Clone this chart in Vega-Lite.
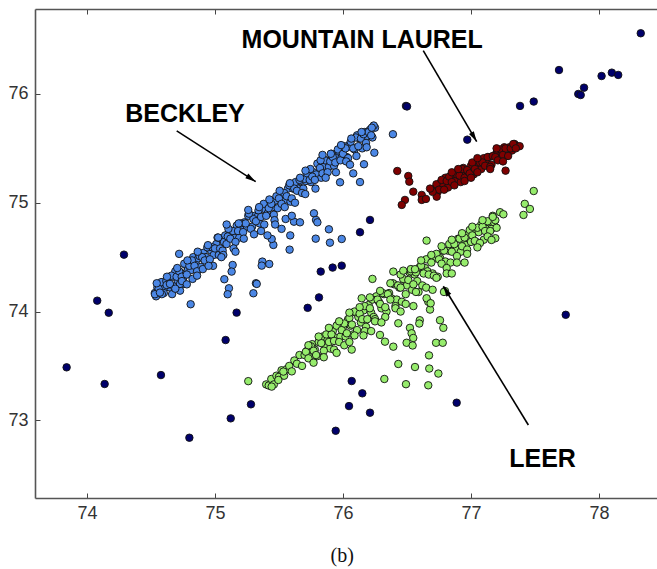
{
"$schema": "https://vega.github.io/schema/vega-lite/v6.json",
"width": 622, "height": 489,
"autosize": {"type": "none"},
"padding": {"left": 35, "top": 9, "right": 0, "bottom": 71},
"background": "white",
"config": {"view": {"stroke": null}},
"resolve": {"axis": {"x": "independent", "y": "independent"}},
"datasets": {
"pts": [
{"x":73.841,"y":73.487,"c":"N"},{"x":74.08,"y":74.10,"c":"N"},{"x":74.17,"y":73.989,"c":"N"},{"x":74.138,"y":73.334,"c":"N"},{"x":74.578,"y":73.416,"c":"N"},{"x":74.289,"y":74.523,"c":"N"},{"x":74.80,"y":72.84,"c":"N"},{"x":75.083,"y":73.738,"c":"N"},{"x":75.169,"y":73.99,"c":"N"},{"x":75.123,"y":73.018,"c":"N"},{"x":75.281,"y":73.147,"c":"N"},{"x":75.724,"y":74.034,"c":"N"},{"x":75.8125,"y":74.13,"c":"N"},{"x":75.943,"y":72.904,"c":"N"},{"x":76.068,"y":73.361,"c":"N"},{"x":76.151,"y":73.248,"c":"N"},{"x":76.047,"y":73.131,"c":"N"},{"x":76.211,"y":73.07,"c":"N"},{"x":76.888,"y":73.162,"c":"N"},{"x":77.74,"y":73.97,"c":"N"},{"x":76.211,"y":74.842,"c":"N"},{"x":76.133,"y":74.729,"c":"N"},{"x":75.826,"y":74.367,"c":"N"},{"x":75.919,"y":74.404,"c":"N"},{"x":75.99,"y":74.422,"c":"N"},{"x":76.492,"y":75.89,"c":"N"},{"x":76.50,"y":75.885,"c":"N"},{"x":76.971,"y":75.58,"c":"N"},{"x":77.383,"y":75.89,"c":"N"},{"x":77.49,"y":75.93,"c":"N"},{"x":77.6875,"y":76.22,"c":"N"},{"x":77.838,"y":76.0,"c":"N"},{"x":77.857,"y":75.99,"c":"N"},{"x":77.883,"y":76.058,"c":"N"},{"x":78.02,"y":76.165,"c":"N"},{"x":78.10,"y":76.196,"c":"N"},{"x":78.15,"y":76.175,"c":"N"},{"x":78.326,"y":76.558,"c":"N"},
{"x":74.53,"y":74.17,"c":"B"},{"x":74.55,"y":74.22,"c":"B"},{"x":74.57,"y":74.17,"c":"B"},{"x":74.59,"y":74.27,"c":"B"},{"x":74.61,"y":74.22,"c":"B"},{"x":74.63,"y":74.26,"c":"B"},{"x":74.65,"y":74.22,"c":"B"},{"x":74.67,"y":74.32,"c":"B"},{"x":74.69,"y":74.37,"c":"B"},{"x":74.71,"y":74.28,"c":"B"},{"x":74.73,"y":74.36,"c":"B"},{"x":74.75,"y":74.30,"c":"B"},{"x":74.77,"y":74.43,"c":"B"},{"x":74.79,"y":74.39,"c":"B"},{"x":74.81,"y":74.38,"c":"B"},{"x":74.83,"y":74.50,"c":"B"},{"x":74.85,"y":74.44,"c":"B"},{"x":74.87,"y":74.49,"c":"B"},{"x":74.89,"y":74.41,"c":"B"},{"x":74.91,"y":74.54,"c":"B"},{"x":74.93,"y":74.50,"c":"B"},{"x":74.95,"y":74.59,"c":"B"},{"x":74.97,"y":74.56,"c":"B"},{"x":74.99,"y":74.52,"c":"B"},{"x":75.01,"y":74.62,"c":"B"},{"x":75.03,"y":74.52,"c":"B"},{"x":75.05,"y":74.67,"c":"B"},{"x":75.07,"y":74.64,"c":"B"},{"x":75.09,"y":74.62,"c":"B"},{"x":75.11,"y":74.74,"c":"B"},{"x":75.13,"y":74.71,"c":"B"},{"x":75.15,"y":74.68,"c":"B"},{"x":75.17,"y":74.79,"c":"B"},{"x":75.19,"y":74.68,"c":"B"},{"x":75.21,"y":74.77,"c":"B"},{"x":75.23,"y":74.82,"c":"B"},{"x":75.25,"y":74.78,"c":"B"},{"x":75.27,"y":74.89,"c":"B"},{"x":75.29,"y":74.78,"c":"B"},{"x":75.31,"y":74.88,"c":"B"},{"x":75.33,"y":74.87,"c":"B"},{"x":75.35,"y":74.81,"c":"B"},{"x":75.37,"y":74.95,"c":"B"},{"x":75.39,"y":74.94,"c":"B"},{"x":75.41,"y":74.90,"c":"B"},{"x":75.43,"y":75.01,"c":"B"},{"x":75.45,"y":74.96,"c":"B"},{"x":75.47,"y":75.02,"c":"B"},{"x":75.49,"y":74.95,"c":"B"},{"x":75.51,"y":75.09,"c":"B"},{"x":75.53,"y":75.05,"c":"B"},{"x":75.55,"y":75.03,"c":"B"},{"x":75.57,"y":75.13,"c":"B"},{"x":75.59,"y":75.01,"c":"B"},{"x":75.61,"y":75.13,"c":"B"},{"x":75.63,"y":75.19,"c":"B"},{"x":75.65,"y":75.13,"c":"B"},{"x":75.67,"y":75.20,"c":"B"},{"x":75.69,"y":75.13,"c":"B"},{"x":75.71,"y":75.20,"c":"B"},{"x":75.73,"y":75.29,"c":"B"},{"x":75.75,"y":75.19,"c":"B"},{"x":75.77,"y":75.28,"c":"B"},{"x":75.79,"y":75.26,"c":"B"},{"x":75.81,"y":75.35,"c":"B"},{"x":75.83,"y":75.23,"c":"B"},{"x":75.85,"y":75.34,"c":"B"},{"x":75.87,"y":75.39,"c":"B"},{"x":75.89,"y":75.33,"c":"B"},{"x":75.91,"y":75.45,"c":"B"},{"x":75.93,"y":75.34,"c":"B"},{"x":75.95,"y":75.42,"c":"B"},{"x":75.97,"y":75.47,"c":"B"},{"x":75.99,"y":75.42,"c":"B"},{"x":76.01,"y":75.52,"c":"B"},{"x":76.03,"y":75.42,"c":"B"},{"x":76.05,"y":75.53,"c":"B"},{"x":76.07,"y":75.51,"c":"B"},{"x":76.09,"y":75.49,"c":"B"},{"x":76.11,"y":75.62,"c":"B"},{"x":76.13,"y":75.59,"c":"B"},{"x":76.15,"y":75.50,"c":"B"},{"x":76.17,"y":75.65,"c":"B"},{"x":76.19,"y":75.61,"c":"B"},{"x":76.21,"y":75.67,"c":"B"},{"x":76.23,"y":75.60,"c":"B"},{"x":76.25,"y":75.69,"c":"B"},
{"x":74.54,"y":74.14,"c":"B"},{"x":74.56,"y":74.21,"c":"B"},{"x":74.58,"y":74.27,"c":"B"},{"x":74.60,"y":74.17,"c":"B"},{"x":74.62,"y":74.28,"c":"B"},{"x":74.64,"y":74.25,"c":"B"},{"x":74.66,"y":74.33,"c":"B"},{"x":74.68,"y":74.23,"c":"B"},{"x":74.70,"y":74.32,"c":"B"},{"x":74.72,"y":74.37,"c":"B"},{"x":74.74,"y":74.32,"c":"B"},{"x":74.76,"y":74.44,"c":"B"},{"x":74.78,"y":74.34,"c":"B"},{"x":74.80,"y":74.42,"c":"B"},{"x":74.82,"y":74.47,"c":"B"},{"x":74.84,"y":74.42,"c":"B"},{"x":74.86,"y":74.37,"c":"B"},{"x":74.88,"y":74.51,"c":"B"},{"x":74.90,"y":74.50,"c":"B"},{"x":74.92,"y":74.47,"c":"B"},{"x":74.94,"y":74.59,"c":"B"},{"x":74.96,"y":74.48,"c":"B"},{"x":74.98,"y":74.59,"c":"B"},{"x":75.00,"y":74.58,"c":"B"},{"x":75.02,"y":74.68,"c":"B"},{"x":75.04,"y":74.58,"c":"B"},{"x":75.06,"y":74.56,"c":"B"},{"x":75.08,"y":74.70,"c":"B"},{"x":75.10,"y":74.69,"c":"B"},{"x":75.12,"y":74.67,"c":"B"},{"x":75.14,"y":74.74,"c":"B"},{"x":75.16,"y":74.64,"c":"B"},{"x":75.18,"y":74.74,"c":"B"},{"x":75.20,"y":74.81,"c":"B"},{"x":75.22,"y":74.73,"c":"B"},{"x":75.24,"y":74.81,"c":"B"},{"x":75.26,"y":74.88,"c":"B"},{"x":75.28,"y":74.76,"c":"B"},{"x":75.30,"y":74.85,"c":"B"},{"x":75.32,"y":74.83,"c":"B"},{"x":75.34,"y":74.93,"c":"B"},{"x":75.36,"y":74.87,"c":"B"},{"x":75.38,"y":74.99,"c":"B"},{"x":75.40,"y":74.88,"c":"B"},{"x":75.42,"y":74.95,"c":"B"},{"x":75.44,"y":74.99,"c":"B"},{"x":75.46,"y":74.89,"c":"B"},{"x":75.48,"y":75.06,"c":"B"},{"x":75.50,"y":75.04,"c":"B"},{"x":75.52,"y":74.99,"c":"B"},{"x":75.54,"y":75.09,"c":"B"},{"x":75.56,"y":75.06,"c":"B"},{"x":75.58,"y":75.16,"c":"B"},{"x":75.60,"y":75.04,"c":"B"},{"x":75.62,"y":75.13,"c":"B"},{"x":75.64,"y":75.11,"c":"B"},{"x":75.66,"y":75.21,"c":"B"},{"x":75.68,"y":75.09,"c":"B"},{"x":75.70,"y":75.22,"c":"B"},{"x":75.72,"y":75.27,"c":"B"},{"x":75.74,"y":75.21,"c":"B"},{"x":75.76,"y":75.24,"c":"B"},{"x":75.78,"y":75.21,"c":"B"},{"x":75.80,"y":75.36,"c":"B"},{"x":75.82,"y":75.32,"c":"B"},{"x":75.84,"y":75.27,"c":"B"},{"x":75.86,"y":75.39,"c":"B"},{"x":75.88,"y":75.28,"c":"B"},{"x":75.90,"y":75.38,"c":"B"},{"x":75.92,"y":75.42,"c":"B"},{"x":75.94,"y":75.37,"c":"B"},{"x":75.96,"y":75.49,"c":"B"},{"x":75.98,"y":75.39,"c":"B"},{"x":76.00,"y":75.45,"c":"B"},{"x":76.02,"y":75.50,"c":"B"},{"x":76.04,"y":75.41,"c":"B"},{"x":76.06,"y":75.56,"c":"B"},{"x":76.08,"y":75.50,"c":"B"},{"x":76.10,"y":75.60,"c":"B"},{"x":76.12,"y":75.52,"c":"B"},{"x":76.14,"y":75.59,"c":"B"},{"x":76.16,"y":75.63,"c":"B"},{"x":76.18,"y":75.55,"c":"B"},{"x":76.20,"y":75.65,"c":"B"},{"x":76.22,"y":75.62,"c":"B"},{"x":76.24,"y":75.71,"c":"B"},
{"x":74.545,"y":74.26,"c":"B"},{"x":74.585,"y":74.16,"c":"B"},{"x":74.625,"y":74.32,"c":"B"},{"x":74.665,"y":74.16,"c":"B"},{"x":74.705,"y":74.40,"c":"B"},{"x":74.745,"y":74.25,"c":"B"},{"x":74.785,"y":74.47,"c":"B"},{"x":74.825,"y":74.30,"c":"B"},{"x":74.865,"y":74.55,"c":"B"},{"x":74.905,"y":74.39,"c":"B"},{"x":74.945,"y":74.61,"c":"B"},{"x":74.985,"y":74.42,"c":"B"},{"x":75.025,"y":74.68,"c":"B"},{"x":75.065,"y":74.52,"c":"B"},{"x":75.105,"y":74.76,"c":"B"},{"x":75.145,"y":74.58,"c":"B"},{"x":75.185,"y":74.81,"c":"B"},{"x":75.225,"y":74.67,"c":"B"},{"x":75.265,"y":74.90,"c":"B"},{"x":75.305,"y":74.71,"c":"B"},{"x":75.345,"y":74.96,"c":"B"},{"x":75.385,"y":74.80,"c":"B"},{"x":75.425,"y":75.03,"c":"B"},{"x":75.465,"y":74.84,"c":"B"},{"x":75.505,"y":75.11,"c":"B"},{"x":75.545,"y":74.96,"c":"B"},{"x":75.585,"y":75.18,"c":"B"},{"x":75.625,"y":75.00,"c":"B"},{"x":75.665,"y":75.23,"c":"B"},{"x":75.705,"y":75.08,"c":"B"},{"x":75.745,"y":75.31,"c":"B"},{"x":75.785,"y":75.13,"c":"B"},{"x":75.825,"y":75.39,"c":"B"},{"x":75.865,"y":75.23,"c":"B"},{"x":75.905,"y":75.45,"c":"B"},{"x":75.945,"y":75.28,"c":"B"},{"x":75.985,"y":75.53,"c":"B"},{"x":76.025,"y":75.38,"c":"B"},{"x":76.065,"y":75.59,"c":"B"},{"x":76.105,"y":75.43,"c":"B"},{"x":76.145,"y":75.65,"c":"B"},{"x":76.185,"y":75.51,"c":"B"},{"x":76.225,"y":75.69,"c":"B"},
{"x":76.39,"y":75.63,"c":"B"},{"x":76.245,"y":75.46,"c":"B"},{"x":76.164,"y":75.354,"c":"B"},{"x":75.977,"y":75.188,"c":"B"},{"x":76.08,"y":75.27,"c":"B"},{"x":76.133,"y":75.19,"c":"B"},{"x":76.055,"y":75.35,"c":"B"},{"x":75.84,"y":75.44,"c":"B"},{"x":75.707,"y":75.295,"c":"B"},{"x":75.26,"y":74.934,"c":"B"},{"x":75.091,"y":74.80,"c":"B"},{"x":74.72,"y":74.53,"c":"B"},{"x":75.773,"y":74.903,"c":"B"},{"x":75.789,"y":74.842,"c":"B"},{"x":75.80,"y":74.82,"c":"B"},{"x":75.89,"y":74.756,"c":"B"},{"x":75.99,"y":74.667,"c":"B"},{"x":75.898,"y":74.633,"c":"B"},{"x":75.787,"y":74.67,"c":"B"},{"x":75.583,"y":74.569,"c":"B"},{"x":75.588,"y":74.70,"c":"B"},{"x":75.456,"y":74.612,"c":"B"},{"x":75.443,"y":74.667,"c":"B"},{"x":75.37,"y":74.459,"c":"B"},{"x":75.424,"y":74.437,"c":"B"},{"x":75.365,"y":74.422,"c":"B"},{"x":75.32,"y":74.26,"c":"B"},{"x":75.30,"y":74.168,"c":"B"},{"x":75.326,"y":74.254,"c":"B"},{"x":75.109,"y":74.214,"c":"B"},{"x":75.099,"y":74.159,"c":"B"},{"x":75.073,"y":74.297,"c":"B"},{"x":75.138,"y":74.428,"c":"B"},{"x":75.13,"y":74.367,"c":"B"},{"x":74.81,"y":74.067,"c":"B"},{"x":74.727,"y":74.192,"c":"B"},{"x":74.727,"y":74.254,"c":"B"},{"x":74.742,"y":74.28,"c":"B"},{"x":75.552,"y":74.851,"c":"B"},{"x":75.617,"y":74.826,"c":"B"},{"x":75.664,"y":74.82,"c":"B"},{"x":74.531,"y":74.159,"c":"B"},{"x":74.57,"y":74.174,"c":"B"},{"x":74.622,"y":74.244,"c":"B"},{"x":74.648,"y":74.254,"c":"B"},{"x":75.36,"y":74.74,"c":"B"},{"x":75.41,"y":74.70,"c":"B"},{"x":75.47,"y":74.80,"c":"B"},{"x":75.52,"y":74.76,"c":"B"},{"x":75.60,"y":74.88,"c":"B"},{"x":75.16,"y":74.55,"c":"B"},{"x":75.05,"y":74.50,"c":"B"},{"x":74.95,"y":74.42,"c":"B"},{"x":74.86,"y":74.33,"c":"B"},{"x":74.78,"y":74.25,"c":"B"},{"x":74.69,"y":74.21,"c":"B"},
{"x":76.72,"y":75.13,"c":"R"},{"x":76.74,"y":75.10,"c":"R"},{"x":76.76,"y":75.18,"c":"R"},{"x":76.78,"y":75.15,"c":"R"},{"x":76.80,"y":75.23,"c":"R"},{"x":76.82,"y":75.14,"c":"R"},{"x":76.84,"y":75.21,"c":"R"},{"x":76.86,"y":75.26,"c":"R"},{"x":76.88,"y":75.20,"c":"R"},{"x":76.90,"y":75.26,"c":"R"},{"x":76.92,"y":75.19,"c":"R"},{"x":76.94,"y":75.32,"c":"R"},{"x":76.96,"y":75.28,"c":"R"},{"x":76.98,"y":75.27,"c":"R"},{"x":77.00,"y":75.34,"c":"R"},{"x":77.02,"y":75.26,"c":"R"},{"x":77.04,"y":75.36,"c":"R"},{"x":77.06,"y":75.35,"c":"R"},{"x":77.08,"y":75.31,"c":"R"},{"x":77.10,"y":75.41,"c":"R"},{"x":77.12,"y":75.37,"c":"R"},{"x":77.14,"y":75.42,"c":"R"},{"x":77.16,"y":75.35,"c":"R"},{"x":77.18,"y":75.43,"c":"R"},{"x":77.20,"y":75.46,"c":"R"},{"x":77.22,"y":75.41,"c":"R"},{"x":77.24,"y":75.45,"c":"R"},{"x":77.26,"y":75.51,"c":"R"},{"x":77.28,"y":75.43,"c":"R"},{"x":77.30,"y":75.51,"c":"R"},{"x":77.32,"y":75.48,"c":"R"},{"x":77.34,"y":75.54,"c":"R"},{"x":77.36,"y":75.52,"c":"R"},{"x":77.38,"y":75.52,"c":"R"},
{"x":76.73,"y":75.17,"c":"R"},{"x":76.75,"y":75.12,"c":"R"},{"x":76.77,"y":75.21,"c":"R"},{"x":76.79,"y":75.12,"c":"R"},{"x":76.81,"y":75.20,"c":"R"},{"x":76.83,"y":75.24,"c":"R"},{"x":76.85,"y":75.19,"c":"R"},{"x":76.87,"y":75.16,"c":"R"},{"x":76.89,"y":75.26,"c":"R"},{"x":76.91,"y":75.25,"c":"R"},{"x":76.93,"y":75.31,"c":"R"},{"x":76.95,"y":75.23,"c":"R"},{"x":76.97,"y":75.30,"c":"R"},{"x":76.99,"y":75.27,"c":"R"},{"x":77.01,"y":75.37,"c":"R"},{"x":77.03,"y":75.31,"c":"R"},{"x":77.05,"y":75.28,"c":"R"},{"x":77.07,"y":75.37,"c":"R"},{"x":77.09,"y":75.37,"c":"R"},{"x":77.11,"y":75.34,"c":"R"},{"x":77.13,"y":75.42,"c":"R"},{"x":77.15,"y":75.33,"c":"R"},{"x":77.17,"y":75.43,"c":"R"},{"x":77.19,"y":75.42,"c":"R"},{"x":77.21,"y":75.39,"c":"R"},{"x":77.23,"y":75.49,"c":"R"},{"x":77.25,"y":75.44,"c":"R"},{"x":77.27,"y":75.50,"c":"R"},{"x":77.29,"y":75.43,"c":"R"},{"x":77.31,"y":75.50,"c":"R"},{"x":77.33,"y":75.54,"c":"R"},{"x":77.35,"y":75.50,"c":"R"},
{"x":76.85,"y":75.28,"c":"R"},{"x":76.95,"y":75.20,"c":"R"},{"x":77.05,"y":75.41,"c":"R"},{"x":77.15,"y":75.31,"c":"R"},{"x":77.25,"y":75.38,"c":"R"},{"x":77.00,"y":75.23,"c":"R"},{"x":76.90,"y":75.31,"c":"R"},{"x":77.20,"y":75.50,"c":"R"},
{"x":76.424,"y":75.292,"c":"R"},{"x":76.51,"y":75.246,"c":"R"},{"x":76.518,"y":75.194,"c":"R"},{"x":76.549,"y":75.102,"c":"R"},{"x":76.615,"y":75.072,"c":"R"},{"x":76.615,"y":75.026,"c":"R"},{"x":76.648,"y":75.035,"c":"R"},{"x":76.484,"y":75.026,"c":"R"},{"x":76.459,"y":74.98,"c":"R"},{"x":76.732,"y":75.056,"c":"R"},{"x":77.27,"y":75.295,"c":"R"},{"x":76.70,"y":75.10,"c":"R"},{"x":76.68,"y":75.13,"c":"R"},
{"x":75.40,"y":73.33,"c":"G"},{"x":75.42,"y":73.32,"c":"G"},{"x":75.44,"y":73.38,"c":"G"},{"x":75.46,"y":73.33,"c":"G"},{"x":75.48,"y":73.41,"c":"G"},{"x":75.50,"y":73.40,"c":"G"},{"x":75.52,"y":73.46,"c":"G"},{"x":75.54,"y":73.41,"c":"G"},{"x":75.56,"y":73.47,"c":"G"},{"x":75.58,"y":73.50,"c":"G"},{"x":75.60,"y":73.45,"c":"G"},{"x":75.62,"y":73.55,"c":"G"},{"x":75.64,"y":73.52,"c":"G"},{"x":75.66,"y":73.60,"c":"G"},{"x":75.68,"y":73.50,"c":"G"},{"x":75.70,"y":73.60,"c":"G"},{"x":75.72,"y":73.64,"c":"G"},{"x":75.74,"y":73.58,"c":"G"},{"x":75.76,"y":73.70,"c":"G"},{"x":75.78,"y":73.65,"c":"G"},{"x":75.80,"y":73.59,"c":"G"},{"x":75.82,"y":73.72,"c":"G"},{"x":75.84,"y":73.77,"c":"G"},{"x":75.86,"y":73.67,"c":"G"},{"x":75.88,"y":73.74,"c":"G"},{"x":75.90,"y":73.66,"c":"G"},{"x":75.92,"y":73.82,"c":"G"},{"x":75.94,"y":73.76,"c":"G"},{"x":75.96,"y":73.88,"c":"G"},{"x":75.98,"y":73.77,"c":"G"},{"x":76.00,"y":73.86,"c":"G"},{"x":76.02,"y":73.77,"c":"G"},{"x":76.04,"y":73.93,"c":"G"},{"x":76.06,"y":73.87,"c":"G"},{"x":76.08,"y":73.79,"c":"G"},{"x":76.10,"y":73.99,"c":"G"},{"x":76.12,"y":73.95,"c":"G"},{"x":76.14,"y":73.90,"c":"G"},{"x":76.16,"y":74.01,"c":"G"},{"x":76.18,"y":73.86,"c":"G"},{"x":76.20,"y":74.06,"c":"G"},{"x":76.22,"y":73.99,"c":"G"},{"x":76.24,"y":73.95,"c":"G"},{"x":76.26,"y":74.14,"c":"G"},{"x":76.28,"y":74.09,"c":"G"},{"x":76.30,"y":74.03,"c":"G"},{"x":76.32,"y":74.16,"c":"G"},{"x":76.34,"y":74.00,"c":"G"},{"x":76.36,"y":74.17,"c":"G"},{"x":76.38,"y":74.12,"c":"G"},{"x":76.40,"y":74.25,"c":"G"},{"x":76.42,"y":74.11,"c":"G"},{"x":76.44,"y":74.22,"c":"G"},{"x":76.46,"y":74.09,"c":"G"},{"x":76.48,"y":74.29,"c":"G"},{"x":76.50,"y":74.24,"c":"G"},{"x":76.52,"y":74.36,"c":"G"},{"x":76.54,"y":74.20,"c":"G"},{"x":76.56,"y":74.34,"c":"G"},{"x":76.58,"y":74.28,"c":"G"},{"x":76.60,"y":74.41,"c":"G"},{"x":76.62,"y":74.24,"c":"G"},{"x":76.64,"y":74.40,"c":"G"},{"x":76.66,"y":74.37,"c":"G"},{"x":76.68,"y":74.49,"c":"G"},{"x":76.70,"y":74.35,"c":"G"},{"x":76.72,"y":74.49,"c":"G"},{"x":76.74,"y":74.32,"c":"G"},{"x":76.76,"y":74.49,"c":"G"},{"x":76.78,"y":74.56,"c":"G"},{"x":76.80,"y":74.46,"c":"G"},{"x":76.82,"y":74.56,"c":"G"},{"x":76.84,"y":74.45,"c":"G"},{"x":76.86,"y":74.62,"c":"G"},{"x":76.88,"y":74.57,"c":"G"},{"x":76.90,"y":74.67,"c":"G"},{"x":76.92,"y":74.55,"c":"G"},{"x":76.94,"y":74.65,"c":"G"},{"x":76.96,"y":74.61,"c":"G"},{"x":76.98,"y":74.71,"c":"G"},{"x":77.00,"y":74.64,"c":"G"},{"x":77.02,"y":74.73,"c":"G"},{"x":77.04,"y":74.64,"c":"G"},{"x":77.06,"y":74.73,"c":"G"},{"x":77.08,"y":74.80,"c":"G"},{"x":77.10,"y":74.66,"c":"G"},{"x":77.12,"y":74.76,"c":"G"},{"x":77.14,"y":74.82,"c":"G"},{"x":77.16,"y":74.76,"c":"G"},{"x":77.18,"y":74.82,"c":"G"},{"x":77.20,"y":74.77,"c":"G"},
{"x":75.71,"y":73.63,"c":"G"},{"x":75.73,"y":73.57,"c":"G"},{"x":75.75,"y":73.68,"c":"G"},{"x":75.77,"y":73.64,"c":"G"},{"x":75.79,"y":73.60,"c":"G"},{"x":75.81,"y":73.72,"c":"G"},{"x":75.83,"y":73.71,"c":"G"},{"x":75.85,"y":73.64,"c":"G"},{"x":75.87,"y":73.79,"c":"G"},{"x":75.89,"y":73.72,"c":"G"},{"x":75.91,"y":73.79,"c":"G"},{"x":75.93,"y":73.73,"c":"G"},{"x":75.95,"y":73.87,"c":"G"},{"x":75.97,"y":73.72,"c":"G"},{"x":75.99,"y":73.83,"c":"G"},{"x":76.01,"y":73.89,"c":"G"},{"x":76.03,"y":73.80,"c":"G"},{"x":76.05,"y":73.94,"c":"G"},{"x":76.07,"y":73.88,"c":"G"},{"x":76.09,"y":74.00,"c":"G"},{"x":76.11,"y":73.83,"c":"G"},{"x":76.13,"y":73.98,"c":"G"},{"x":76.15,"y":73.93,"c":"G"},{"x":76.17,"y":74.05,"c":"G"},{"x":76.19,"y":73.93,"c":"G"},{"x":76.21,"y":74.03,"c":"G"},{"x":76.23,"y":74.11,"c":"G"},{"x":76.25,"y":73.93,"c":"G"},{"x":76.27,"y":74.11,"c":"G"},{"x":76.29,"y":74.07,"c":"G"},{"x":76.31,"y":74.17,"c":"G"},{"x":76.33,"y":74.04,"c":"G"},{"x":76.35,"y":74.16,"c":"G"},{"x":76.37,"y":74.11,"c":"G"},{"x":76.39,"y":74.26,"c":"G"},{"x":76.41,"y":74.05,"c":"G"},{"x":76.43,"y":74.24,"c":"G"},{"x":76.45,"y":74.22,"c":"G"},{"x":76.47,"y":74.30,"c":"G"},{"x":76.49,"y":74.16,"c":"G"},{"x":76.51,"y":74.29,"c":"G"},{"x":76.53,"y":74.37,"c":"G"},{"x":76.55,"y":74.25,"c":"G"},{"x":76.57,"y":74.36,"c":"G"},{"x":76.59,"y":74.18,"c":"G"},{"x":76.61,"y":74.42,"c":"G"},{"x":76.63,"y":74.35,"c":"G"},{"x":76.65,"y":74.48,"c":"G"},{"x":76.67,"y":74.34,"c":"G"},{"x":76.69,"y":74.45,"c":"G"},{"x":76.71,"y":74.33,"c":"G"},{"x":76.73,"y":74.53,"c":"G"},{"x":76.75,"y":74.48,"c":"G"},{"x":76.77,"y":74.44,"c":"G"},{"x":76.79,"y":74.56,"c":"G"},{"x":76.81,"y":74.40,"c":"G"},{"x":76.83,"y":74.62,"c":"G"},{"x":76.85,"y":74.55,"c":"G"},{"x":76.87,"y":74.62,"c":"G"},{"x":76.89,"y":74.51,"c":"G"},{"x":76.91,"y":74.67,"c":"G"},{"x":76.93,"y":74.60,"c":"G"},{"x":76.95,"y":74.68,"c":"G"},{"x":76.97,"y":74.57,"c":"G"},{"x":76.99,"y":74.75,"c":"G"},{"x":77.01,"y":74.70,"c":"G"},{"x":77.03,"y":74.65,"c":"G"},{"x":77.05,"y":74.77,"c":"G"},{"x":77.07,"y":74.63,"c":"G"},{"x":77.09,"y":74.78,"c":"G"},{"x":77.11,"y":74.74,"c":"G"},{"x":77.13,"y":74.83,"c":"G"},{"x":77.15,"y":74.74,"c":"G"},{"x":77.17,"y":74.88,"c":"G"},{"x":77.19,"y":74.84,"c":"G"},
{"x":75.73,"y":73.69,"c":"G"},{"x":75.77,"y":73.53,"c":"G"},{"x":75.81,"y":73.77,"c":"G"},{"x":75.85,"y":73.58,"c":"G"},{"x":75.89,"y":73.85,"c":"G"},{"x":75.93,"y":73.65,"c":"G"},{"x":75.97,"y":73.91,"c":"G"},{"x":76.01,"y":73.69,"c":"G"},{"x":76.05,"y":73.99,"c":"G"},{"x":76.09,"y":73.78,"c":"G"},{"x":76.13,"y":74.04,"c":"G"},{"x":76.17,"y":73.82,"c":"G"},{"x":76.21,"y":74.13,"c":"G"},{"x":76.25,"y":73.91,"c":"G"},{"x":76.29,"y":74.19,"c":"G"},{"x":76.33,"y":73.95,"c":"G"},{"x":76.37,"y":74.26,"c":"G"},{"x":76.41,"y":74.03,"c":"G"},{"x":76.45,"y":74.34,"c":"G"},{"x":76.49,"y":74.07,"c":"G"},{"x":76.53,"y":74.39,"c":"G"},{"x":76.57,"y":74.18,"c":"G"},{"x":76.61,"y":74.47,"c":"G"},{"x":76.65,"y":74.22,"c":"G"},{"x":76.69,"y":74.52,"c":"G"},{"x":76.73,"y":74.31,"c":"G"},{"x":76.77,"y":74.60,"c":"G"},{"x":76.81,"y":74.35,"c":"G"},{"x":76.85,"y":74.66,"c":"G"},{"x":76.89,"y":74.45,"c":"G"},{"x":76.93,"y":74.72,"c":"G"},{"x":76.97,"y":74.53,"c":"G"},{"x":77.01,"y":74.78,"c":"G"},{"x":77.05,"y":74.59,"c":"G"},{"x":77.09,"y":74.84,"c":"G"},{"x":77.13,"y":74.69,"c":"G"},{"x":77.17,"y":74.87,"c":"G"},
{"x":75.26,"y":73.36,"c":"G"},{"x":75.534,"y":73.448,"c":"G"},{"x":75.495,"y":73.371,"c":"G"},{"x":75.443,"y":73.31,"c":"G"},{"x":76.146,"y":74.122,"c":"G"},{"x":76.432,"y":73.892,"c":"G"},{"x":76.523,"y":73.85,"c":"G"},{"x":76.536,"y":73.80,"c":"G"},{"x":76.549,"y":73.757,"c":"G"},{"x":76.497,"y":73.713,"c":"G"},{"x":76.544,"y":73.688,"c":"G"},{"x":76.60,"y":73.92,"c":"G"},{"x":76.596,"y":73.89,"c":"G"},{"x":76.666,"y":74.09,"c":"G"},{"x":76.68,"y":74.018,"c":"G"},{"x":76.758,"y":73.92,"c":"G"},{"x":76.784,"y":73.85,"c":"G"},{"x":76.727,"y":73.713,"c":"G"},{"x":76.779,"y":73.713,"c":"G"},{"x":76.672,"y":73.597,"c":"G"},{"x":76.674,"y":73.476,"c":"G"},{"x":76.745,"y":73.43,"c":"G"},{"x":76.5625,"y":73.49,"c":"G"},{"x":76.432,"y":73.518,"c":"G"},{"x":76.323,"y":73.38,"c":"G"},{"x":76.492,"y":73.332,"c":"G"},{"x":76.666,"y":73.322,"c":"G"},{"x":76.068,"y":73.65,"c":"G"},{"x":76.797,"y":74.188,"c":"G"},{"x":76.289,"y":73.785,"c":"G"},{"x":76.328,"y":73.723,"c":"G"},{"x":76.393,"y":73.677,"c":"G"},{"x":76.653,"y":74.652,"c":"G"},{"x":76.393,"y":74.367,"c":"G"},{"x":76.471,"y":74.376,"c":"G"},{"x":76.23,"y":74.30,"c":"G"},{"x":76.5625,"y":74.389,"c":"G"},{"x":77.49,"y":75.108,"c":"G"},{"x":77.42,"y":74.99,"c":"G"},{"x":77.46,"y":74.943,"c":"G"},{"x":77.41,"y":74.888,"c":"G"},{"x":77.227,"y":74.913,"c":"G"},{"x":77.253,"y":74.894,"c":"G"},{"x":77.19,"y":74.674,"c":"G"},{"x":77.16,"y":74.658,"c":"G"},{"x":76.653,"y":74.122,"c":"G"},{"x":76.685,"y":74.076,"c":"G"},{"x":76.789,"y":74.18,"c":"G"},{"x":76.16,"y":73.78,"c":"G"},{"x":76.22,"y":73.82,"c":"G"},{"x":76.05,"y":73.72,"c":"G"},{"x":75.95,"y":73.62,"c":"G"},{"x":76.30,"y":73.90,"c":"G"},{"x":76.45,"y":74.00,"c":"G"},{"x":76.55,"y":74.05,"c":"G"},{"x":76.70,"y":74.20,"c":"G"},{"x":76.85,"y":74.35,"c":"G"},{"x":76.95,"y":74.45,"c":"G"}
],
"ann": [
{"t":"BECKLEY","x":74.766,"y":75.745},
{"t":"MOUNTAIN LAUREL","x":76.15,"y":76.426},
{"t":"LEER","x":77.559,"y":72.574}
],
"arr": [
{"k":"B","x":74.701,"y":75.66,"x2":75.318,"y2":75.194},
{"k":"M","x":76.627,"y":76.398,"x2":77.0445,"y2":75.562},
{"k":"L","x":77.448,"y":72.957,"x2":76.784,"y2":74.2325}
]
},
"layer": [
{
"data": {"name": "pts"},
"mark": {"type": "circle", "size": 56, "opacity": 1, "stroke": "#111111", "strokeWidth": 0.9},
"encoding": {
"x": {"field": "x", "type": "quantitative", "scale": {"domain": [73.594, 78.453], "nice": false, "zero": false},
"axis": {"orient": "bottom", "values": [74, 75, 76, 77, 78], "tickSize": -5, "tickColor": "#444444", "tickWidth": 1, "labelPadding": 11, "domainColor": "#555555", "domainWidth": 1.6, "grid": false, "labelFont": "Liberation Sans", "labelFontSize": 18, "labelColor": "#333333", "title": "(b)", "titleFont": "Liberation Serif", "titleFontSize": 20, "titleFontWeight": "normal", "titleColor": "#111111", "titleX": 306.7, "titleY": 63, "titleBaseline": "alphabetic", "titleAlign": "center"}},
"y": {"field": "y", "type": "quantitative", "scale": {"domain": [72.286, 76.781], "nice": false, "zero": false},
"axis": {"orient": "left", "values": [73, 74, 75, 76], "tickSize": -5, "tickColor": "#444444", "tickWidth": 1, "labelPadding": 12, "domainColor": "#555555", "domainWidth": 1.6, "grid": false, "labelFont": "Liberation Sans", "labelFontSize": 18, "labelColor": "#333333", "title": null}},
"fill": {"field": "c", "type": "nominal", "scale": {"domain": ["N", "B", "R", "G"], "range": ["#00006b", "#4b87e5", "#7f0000", "#96ec6c"]}, "legend": null}
}
},
{
"data": {"name": "arr"},
"mark": {"type": "rule", "color": "black", "strokeWidth": 1.6},
"encoding": {
"x": {"field": "x", "type": "quantitative", "scale": {"domain": [73.594, 78.453], "nice": false, "zero": false},
"axis": {"orient": "top", "values": [74, 75, 76, 77, 78], "tickSize": -5, "tickColor": "#444444", "tickWidth": 1, "labels": false, "domainColor": "#555555", "domainWidth": 1.6, "grid": false, "title": null}},
"y": {"field": "y", "type": "quantitative", "scale": {"domain": [72.286, 76.781], "nice": false, "zero": false}, "axis": null},
"x2": {"field": "x2"},
"y2": {"field": "y2"}
}
},
{
"data": {"name": "arr"},
"transform": [{"filter": "datum.k == 'B'"}],
"mark": {"type": "point", "shape": "M0,0L-0.4,1.5L0.4,1.5Z", "size": 196, "angle": 122.7, "filled": true, "color": "black", "opacity": 1, "strokeWidth": 0},
"encoding": {
"x": {"field": "x2", "type": "quantitative", "scale": {"domain": [73.594, 78.453], "nice": false, "zero": false}, "axis": null},
"y": {"field": "y2", "type": "quantitative", "scale": {"domain": [72.286, 76.781], "nice": false, "zero": false}, "axis": null}
}
},
{
"data": {"name": "arr"},
"transform": [{"filter": "datum.k == 'M'"}],
"mark": {"type": "point", "shape": "M0,0L-0.4,1.5L0.4,1.5Z", "size": 196, "angle": 149.6, "filled": true, "color": "black", "opacity": 1, "strokeWidth": 0},
"encoding": {
"x": {"field": "x2", "type": "quantitative", "scale": {"domain": [73.594, 78.453], "nice": false, "zero": false}, "axis": null},
"y": {"field": "y2", "type": "quantitative", "scale": {"domain": [72.286, 76.781], "nice": false, "zero": false}, "axis": null}
}
},
{
"data": {"name": "arr"},
"transform": [{"filter": "datum.k == 'L'"}],
"mark": {"type": "point", "shape": "M0,0L-0.4,1.5L0.4,1.5Z", "size": 196, "angle": 328.4, "filled": true, "color": "black", "opacity": 1, "strokeWidth": 0},
"encoding": {
"x": {"field": "x2", "type": "quantitative", "scale": {"domain": [73.594, 78.453], "nice": false, "zero": false}, "axis": null},
"y": {"field": "y2", "type": "quantitative", "scale": {"domain": [72.286, 76.781], "nice": false, "zero": false}, "axis": null}
}
},
{
"data": {"name": "ann"},
"mark": {"type": "text", "font": "Liberation Sans", "fontWeight": "bold", "fontSize": 25, "align": "center", "baseline": "alphabetic", "color": "black"},
"encoding": {
"x": {"field": "x", "type": "quantitative", "scale": {"domain": [73.594, 78.453], "nice": false, "zero": false}, "axis": null},
"y": {"field": "y", "type": "quantitative", "scale": {"domain": [72.286, 76.781], "nice": false, "zero": false}, "axis": null},
"text": {"field": "t", "type": "nominal"}
}
}
]
}
